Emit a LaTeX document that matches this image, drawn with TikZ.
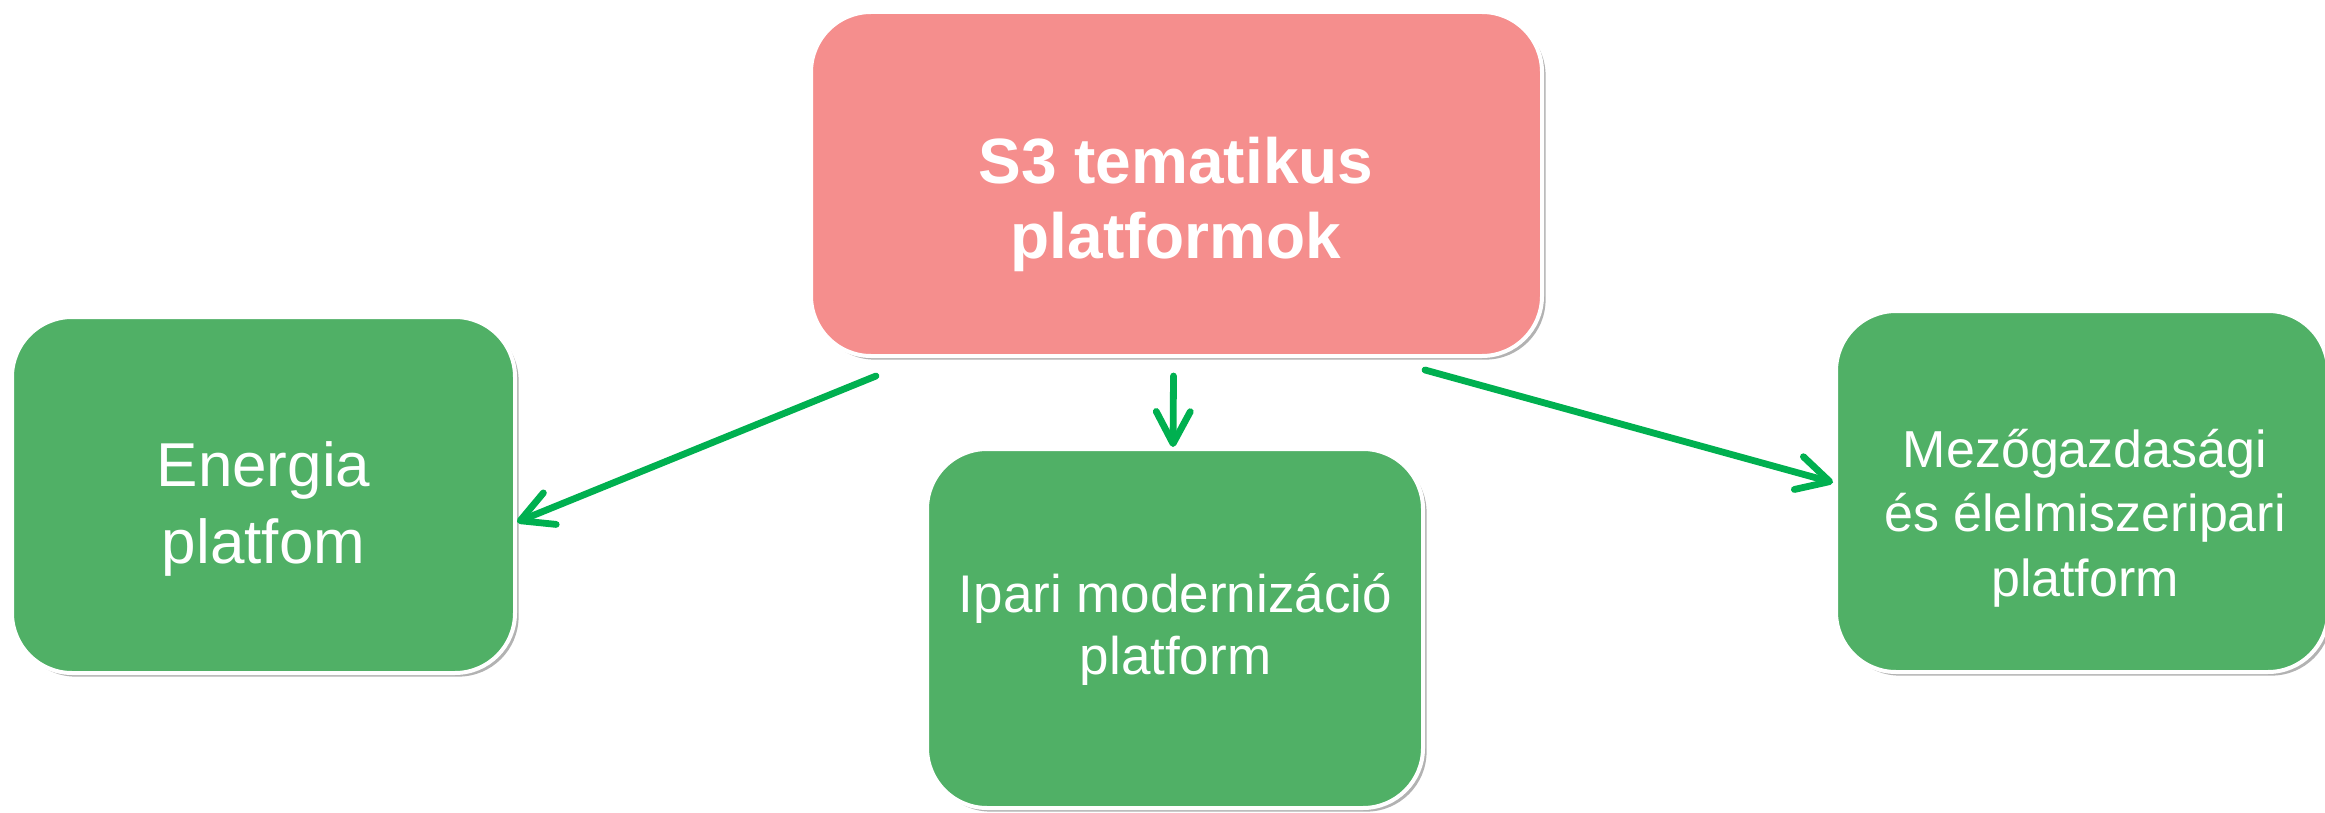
\documentclass[tikz,border=0pt]{standalone}
\usepackage{fontspec}
\setmainfont{Liberation Sans}
\usetikzlibrary{arrows.meta,shadows,calc}
\definecolor{boxgreen}{HTML}{50B066}
\definecolor{boxpink}{HTML}{F58E8D}
\definecolor{arrowgreen}{HTML}{00B050}
\tikzset{
  box/.style={draw=white, line width=2pt, rounded corners=30pt, inner sep=0pt,
    drop shadow={shadow xshift=1.8pt, shadow yshift=-1.8pt, fill=black, opacity=0.3}},
  greenbox/.style={box, fill=boxgreen},
  pinkbox/.style={box, fill=boxpink},
  boxtext/.style={text=white, align=center, inner sep=0pt},
  link/.style={draw=arrowgreen, line width=3.4pt, line cap=round,
    -{Straight Barb[length=16pt, width=17pt, round]}}
}
\begin{document}
\begin{tikzpicture}[x=0.5pt, y=-0.5pt]
\useasboundingbox (0,0) rectangle (2325,813);
\node[pinkbox, minimum width=365.5pt, minimum height=172pt] (top) at (1176.5,184) {};
\node[greenbox, minimum width=251.5pt, minimum height=178pt] (left) at (263.5,495) {};
\node[greenbox, minimum width=248pt, minimum height=179.5pt] (mid) at (1175,628.5) {};
\node[greenbox, minimum width=246pt, minimum height=180.5pt] (right) at (2082,491.5) {};
\node[boxtext, font=\bfseries\fontsize{32}{37.5}\selectfont] (toptext) at (1176,204) {S3 tematikus\\platformok};
\node[boxtext, font=\fontsize{31}{38.5}\selectfont] (lefttext) at (263.5,509) {Energia\\platfom};
\node[boxtext, font=\fontsize{26.5}{31}\selectfont] (midtext) at (1175.5,629) {Ipari modernizáció\\platform};
\node[boxtext, font=\fontsize{26}{32.25}\selectfont] (righttext) at (2085,518) {Mezőgazdasági\\és élelmiszeripari\\platform};
\coordinate (s1) at ($(top.south west)+(67,18)$);
\coordinate (s2) at ($(top.south)+(-3,18)$);
\coordinate (s3) at ($(top.south east)+(-119,12)$);
\draw[link] (s1) -- ($(left.east)+(0,27)$);
\draw[link] (s2) -- ($(mid.north)+(-2,0)$);
\draw[link] (s3) -- ($(right.west)+(-1,-9)$);
\end{tikzpicture}
\end{document}
